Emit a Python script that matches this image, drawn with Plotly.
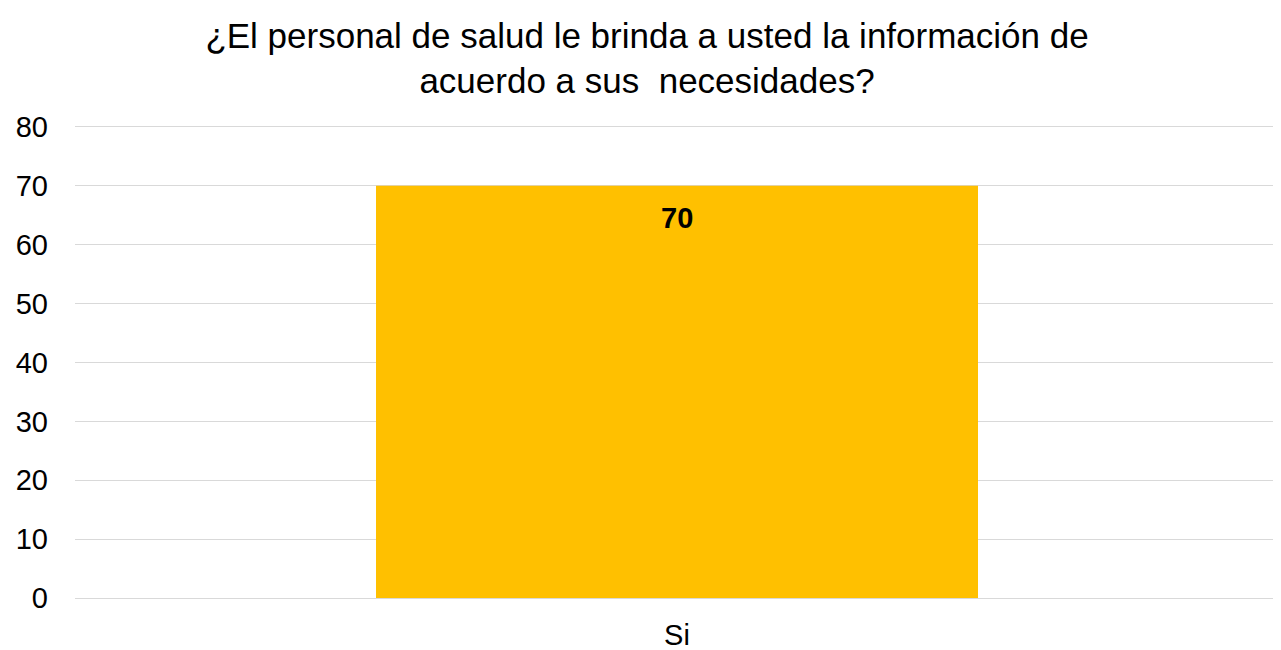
import plotly.graph_objects as go

categories = ["Si"]
values = [70]
title_text = "¿El personal de salud le brinda a usted la información de<br>acuerdo a sus  necesidades?"

FONT = "Liberation Sans, Arial"

fig = go.Figure()
fig.add_trace(go.Bar(
    x=categories, y=values, marker=dict(color="#FFC000", line=dict(width=0)),
    width=0.5, hoverinfo="skip"
))
for c, v in zip(categories, values):
    fig.add_annotation(x=c, y=v, text=f"<b>{v}</b>", showarrow=False,
                       yanchor="middle", yshift=-32,
                       font=dict(family=FONT, size=29, color="#000000"))

fig.update_layout(
    width=1273, height=642,
    paper_bgcolor="white", plot_bgcolor="white",
    margin=dict(l=67, r=2, t=116, b=52, autoexpand=False),
    title=dict(text=title_text, x=0.502, xanchor="center", y=0.938, yanchor="middle",
               font=dict(family=FONT, size=35, color="#000000")),
    font=dict(family=FONT, size=29, color="#000000"),
    showlegend=False,
)
fig.update_yaxes(range=[0, 80.5], tickvals=[0, 10, 20, 30, 40, 50, 60, 70, 80],
                 showgrid=True, gridcolor="#D9D9D9", gridwidth=1,
                 zeroline=False, showline=False, ticks="", tickfont=dict(size=29),
                 ticklabelstandoff=26, automargin=False)
fig.update_xaxes(showline=True, linecolor="#D9D9D9", linewidth=1, ticks="",
                 tickfont=dict(size=29), ticklabelstandoff=11, automargin=False)
fig.write_html("out.html")
